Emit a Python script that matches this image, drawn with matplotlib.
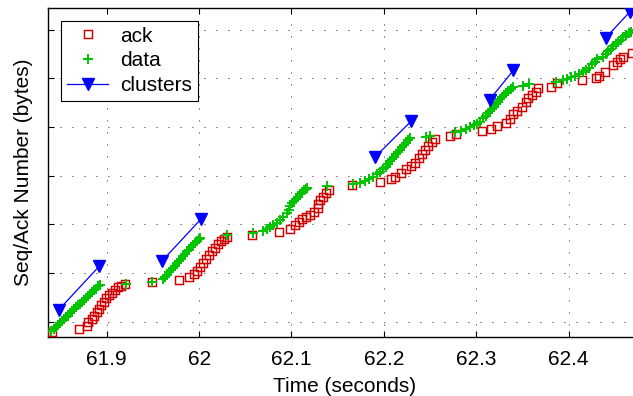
"""
plot.py
───────
Seq/Ack trace of one TCP flow: data packets (green +), returning acks
(red squares) and the send clusters found by the detector (blue, start/end).

Values are read off the reference chart; the y axis carries no labels.
"""
import matplotlib

matplotlib.use("Agg")
import matplotlib.pyplot as plt

# ── acks (red squares) ────────────────────────────────────────────────────
ack_time = [
    61.8411, 61.8697, 61.8784, 61.8803, 61.8836, 61.8863, 61.8890, 61.8917,
    61.8944, 61.8971, 61.8998, 61.9030, 61.9063, 61.9095, 61.9128, 61.9160,
    61.9193,
    61.9494, 61.9786, 61.9896, 61.9945, 61.9977, 62.0010, 62.0042, 62.0075,
    62.0107, 62.0140, 62.0172, 62.0205, 62.0237, 62.0270, 62.0297,
    62.0569, 62.0865, 62.0984, 62.1043, 62.1081, 62.1114, 62.1157, 62.1200,
    62.1244, 62.1282, 62.1292, 62.1314, 62.1341, 62.1374, 62.1406,
    62.1658, 62.1958, 62.2074, 62.2120, 62.2185, 62.2236, 62.2290, 62.2337,
    62.2380, 62.2409, 62.2445, 62.2481, 62.2518, 62.2553, 62.2721, 62.2781,
    62.3059, 62.3159, 62.3228, 62.3322, 62.3360, 62.3403, 62.3446, 62.3492,
    62.3533, 62.3565, 62.3603, 62.3643, 62.3671,
    62.3805, 62.3877, 62.4144, 62.4299, 62.4331, 62.4396, 62.4483, 62.4528,
    62.4561, 62.4583, 62.4682,
]
ack_seq = [
    7940, 8540, 9080, 9840, 10560, 11270, 11990, 12710,
    13430, 14150, 14770, 15390, 16000, 16520, 17030, 17440,
    17750,
    18060, 18570, 19190, 19800, 20520, 21240, 22070, 22890,
    23710, 24430, 25250, 25970, 26590, 27100, 27510,
    27920, 28540, 29100, 29880, 30490, 31010, 31520, 32030,
    32650, 33270, 34190, 35020, 35730, 36450, 37170,
    38000, 38780, 39330, 39800, 40630, 41330, 42000, 42680,
    43590, 44410, 45290, 46120, 46880, 47490, 48070, 48520,
    49200, 49610, 50230, 50900, 51600, 52590, 53370, 54190,
    55060, 55880, 56500, 57280, 57980,
    58300, 59000, 59620, 60130, 60540, 61280, 62810, 63380,
    64000, 64510, 65170,
]

# ── data packets (green +) ────────────────────────────────────────────────
data_time = [
    61.8397, 61.8430, 61.8451, 61.8473, 61.8495, 61.8516, 61.8538, 61.8560,
    61.8581, 61.8603, 61.8624, 61.8646, 61.8668, 61.8689, 61.8711, 61.8733,
    61.8754, 61.8776, 61.8798, 61.8819, 61.8841, 61.8863, 61.8884, 61.8906,
    61.8928, 61.9204,
    61.9494, 61.9606, 61.9631, 61.9653, 61.9674, 61.9696, 61.9718, 61.9739,
    61.9761, 61.9783, 61.9804, 61.9826, 61.9848, 61.9869, 61.9891, 61.9912,
    61.9934, 61.9956, 61.9977, 61.9999, 62.0015, 62.0299,
    62.0587, 62.0695, 62.0730, 62.0767, 62.0803, 62.0840, 62.0876, 62.0911,
    62.0948, 62.0973, 62.0989, 62.1006, 62.1027, 62.1049, 62.1071, 62.1092,
    62.1114, 62.1135, 62.1157, 62.1173, 62.1381,
    62.1669, 62.1742, 62.1796, 62.1839, 62.1885, 62.1926, 62.1958, 62.1990,
    62.2023, 62.2045, 62.2066, 62.2088, 62.2110, 62.2131, 62.2153, 62.2174,
    62.2196, 62.2218, 62.2239, 62.2261, 62.2288, 62.2456, 62.2494,
    62.2770, 62.2835, 62.2889, 62.2932, 62.2975, 62.3008, 62.3040, 62.3073,
    62.3105, 62.3127, 62.3149, 62.3170, 62.3192, 62.3213, 62.3235, 62.3257,
    62.3278, 62.3300, 62.3322, 62.3343, 62.3376, 62.3397, 62.3506, 62.3576,
    62.3868, 62.3939, 62.3982, 62.4025, 62.4068, 62.4112, 62.4155, 62.4188,
    62.4220, 62.4252, 62.4285, 62.4307, 62.4377, 62.4404, 62.4431, 62.4458,
    62.4485, 62.4512, 62.4539, 62.4566, 62.4593, 62.4620, 62.4648, 62.4675,
    62.4702,
]
data_seq = [
    8190, 8500, 8910, 9320, 9730, 10140, 10550, 10970,
    11270, 11690, 12100, 12510, 12920, 13330, 13740, 14150,
    14560, 14970, 15280, 15690, 16100, 16520, 16820, 17240,
    17540, 17750,
    18220, 18780, 19190, 19700, 20220, 20630, 21140, 21550,
    22070, 22480, 22990, 23500, 23920, 24430, 24840, 25350,
    25770, 26180, 26590, 27000, 27200, 27720,
    28290, 28640, 28990, 29400, 29880, 30350, 30900, 31580,
    32280, 32960, 33680, 34300, 34810, 35320, 35730, 36150,
    36560, 36970, 37280, 37480, 37890,
    38240, 38610, 38980, 39330, 39800, 40260, 40770, 41390,
    41900, 42420, 42930, 43440, 43850, 44370, 44880, 45290,
    45810, 46320, 46730, 47250, 47760, 48030, 48170,
    48930, 49300, 49610, 49920, 50330, 50640, 51150, 51770,
    52280, 52800, 53310, 53820, 54230, 54750, 55260, 55780,
    56190, 56700, 57110, 57520, 57930, 58240, 58390, 58860,
    59270, 59580, 59890, 60200, 60500, 60910, 61330, 61740,
    62250, 62870, 63480, 63900, 64510, 65030, 65540, 66050,
    66570, 66980, 67490, 67900, 68420, 68830, 69240, 69650,
    69960,
]

# ── detected clusters (blue), one start/end pair each ─────────────────────
cluster_start_time = [61.8479, 61.9599, 62.1901, 62.3145, 62.4401]
cluster_start_seq = [12400, 22480, 43790, 55670, 68360]
cluster_end_time = [61.8917, 62.0024, 62.2294, 62.3403, 62.4664]
cluster_end_seq = [21350, 31170, 51190, 61680, 73720]

x_ticks = [61.9, 62.0, 62.1, 62.2, 62.3, 62.4]
x_tick_labels = ["61.9", "62", "62.1", "62.2", "62.3", "62.4"]
y_ticks = [10000, 20000, 30000, 40000, 50000, 60000, 70000]

RED = "#d00000"
GREEN = "#00c400"
BLUE = "#0000ff"
FONT = 15


def main() -> None:
    plt.rcParams["font.family"] = ["Liberation Sans", "DejaVu Sans"]
    plt.rcParams["font.size"] = FONT

    fig = plt.figure(figsize=(6.33, 3.96), dpi=100)
    # the original axes box runs a little past the right edge of the image
    ax = fig.add_axes([48 / 633, 59 / 396, 593 / 633, 329 / 396])

    ax.plot(ack_time, ack_seq, linestyle="none", marker="s", markersize=5.4,
            markerfacecolor="none", markeredgecolor=RED, markeredgewidth=1.05,
            label="ack", zorder=3)
    ax.plot(data_time, data_seq, linestyle="none", marker="+", markersize=6.5,
            markeredgecolor=GREEN, markeredgewidth=1.4, label="data", zorder=4)

    for i in range(len(cluster_start_time)):
        ax.plot([cluster_start_time[i], cluster_end_time[i]],
                [cluster_start_seq[i], cluster_end_seq[i]],
                color=BLUE, linewidth=0.9, marker="v", markersize=9.2,
                markerfacecolor=BLUE, markeredgecolor=BLUE,
                label="clusters" if i == 0 else None, zorder=5)

    ax.set_xlim(61.8365, 62.4783)
    ax.set_ylim(6855, 74481)
    ax.set_xticks(x_ticks)
    ax.set_xticklabels(x_tick_labels)
    ax.set_yticks(y_ticks)
    ax.set_yticklabels([])

    ax.grid(True, color="black", linewidth=0.6, linestyle=(0, (1.2, 13.2)))
    ax.set_axisbelow(True)

    ax.tick_params(direction="in", length=4, width=0.8, top=True, right=True,
                   labelsize=FONT, pad=9.5)
    for side in ("left", "bottom", "top", "right"):
        ax.spines[side].set_linewidth(1.0)

    ax.set_xlabel("Time (seconds)", fontsize=FONT, labelpad=5.5)
    ax.set_ylabel("Seq/Ack Number (bytes)", fontsize=FONT)
    ax.yaxis.set_label_coords(-0.025, 0.5)

    leg = ax.legend(loc="upper left", numpoints=1, fontsize=FONT,
                    fancybox=False, framealpha=1.0, edgecolor="black",
                    handlelength=2.0, handletextpad=0.55, labelspacing=0.27,
                    borderpad=0.3, borderaxespad=0.6)
    leg.get_frame().set_linewidth(0.8)

    fig.savefig("out.png", dpi=100)
    plt.close(fig)


if __name__ == "__main__":
    main()
